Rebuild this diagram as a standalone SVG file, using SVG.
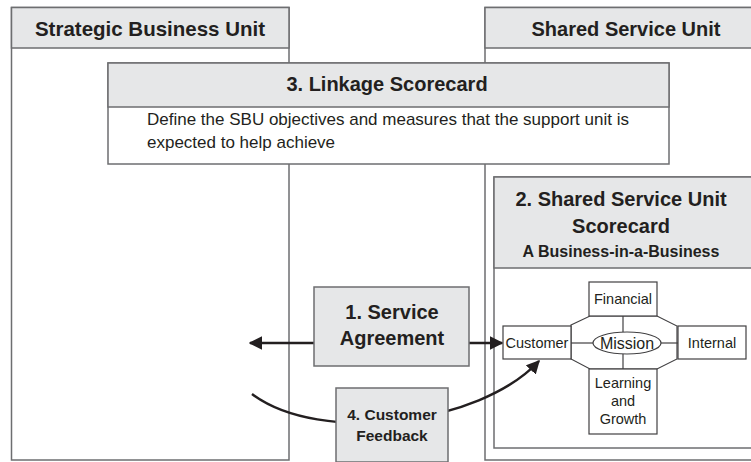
<svg xmlns="http://www.w3.org/2000/svg" width="751" height="462" viewBox="0 0 751 462">
<style>
.box{fill:#fff;stroke:#6d6e70;stroke-width:1.5}
.hdr{fill:#e6e7e8;stroke:#6d6e70;stroke-width:1.5}
.thin{fill:#fff;stroke:#414042;stroke-width:1.2}
.t{font-family:"Liberation Sans",Arial,sans-serif;fill:#231f20}
.b{font-weight:bold}
.c{text-anchor:middle}
.ln{fill:none;stroke:#231f20;stroke-width:2.5}
.sl{fill:none;stroke:#414042;stroke-width:1.2}
</style>
<defs>
<marker id="ah" viewBox="0 0 10 10" refX="9" refY="5" markerWidth="5.4" markerHeight="5.4" orient="auto" markerUnits="strokeWidth">
<path d="M0,0 L10,5 L0,10 Z" fill="#231f20"/>
</marker>
</defs>
<rect width="751" height="462" fill="#fff"/>
<g id="sbu">
<rect class="box" x="11.5" y="7.5" width="277.5" height="452.5"/>
<rect class="hdr" x="11.5" y="7.5" width="277.5" height="40.5"/>
<text class="t b c" x="150" y="36" font-size="20.5">Strategic Business Unit</text>
</g>
<g id="ssu">
<rect class="box" x="485" y="7.5" width="280" height="452.5"/>
<rect class="hdr" x="485" y="7.5" width="280" height="40.5"/>
<text class="t b c" x="626" y="36" font-size="20">Shared Service Unit</text>
</g>
<g id="linkage">
<rect class="box" x="108" y="63" width="561" height="101"/>
<rect class="hdr" x="108" y="63" width="561" height="44"/>
<text class="t b c" x="387" y="91" font-size="20">3. Linkage Scorecard</text>
<text class="t" x="147" y="125" font-size="17">Define the SBU objectives and measures that the support unit is</text>
<text class="t" x="147" y="148" font-size="17">expected to help achieve</text>
</g>
<g id="ssu-scorecard">
<rect class="box" x="494" y="177" width="270" height="271"/>
<rect class="hdr" x="494" y="177" width="270" height="91"/>
<text class="t b c" x="621" y="206" font-size="20">2. Shared Service Unit</text>
<text class="t b c" x="621" y="233" font-size="20">Scorecard</text>
<text class="t b c" x="621" y="257" font-size="16">A Business-in-a-Business</text>
<polygon class="thin" points="571,325 590,316 657,316 677,326 677,359 657,369 590,369 571,359"/>
<line class="sl" x1="571" y1="343" x2="593" y2="343"/>
<line class="sl" x1="661" y1="343" x2="678" y2="343"/>
<line class="sl" x1="623" y1="316" x2="623" y2="332"/>
<line class="sl" x1="623" y1="354" x2="623" y2="369"/>
<ellipse class="thin" cx="627" cy="343" rx="34" ry="11"/>
<text class="t c" x="627" y="349" font-size="16">Mission</text>
</g>
<g id="financial">
<rect class="thin" x="589" y="282" width="68" height="34"/>
<text class="t c" x="623" y="304" font-size="14.5">Financial</text>
</g>
<g id="customer">
<rect class="thin" x="503" y="326" width="68" height="33"/>
<text class="t c" x="537" y="348" font-size="14.5">Customer</text>
</g>
<g id="internal">
<rect class="thin" x="678" y="326" width="68" height="33"/>
<text class="t c" x="712" y="348" font-size="14.5">Internal</text>
</g>
<g id="learning">
<rect class="thin" x="589" y="369" width="68" height="65"/>
<text class="t c" x="623" y="388" font-size="14.5">Learning</text>
<text class="t c" x="623" y="406" font-size="14.5">and</text>
<text class="t c" x="623" y="424" font-size="14.5">Growth</text>
</g>
<g id="connectors">
<line class="ln" x1="314" y1="343" x2="250" y2="343" marker-end="url(#ah)"/>
<line class="ln" x1="469" y1="343" x2="502" y2="343" marker-end="url(#ah)"/>
<path class="ln" d="M252,394 C320,445 480,425 539,361" marker-end="url(#ah)"/>
</g>
<g id="service-agreement">
<rect class="hdr" x="314" y="287" width="155" height="79"/>
<text class="t b c" x="392" y="319" font-size="20">1. Service</text>
<text class="t b c" x="392" y="345" font-size="20">Agreement</text>
</g>
<g id="customer-feedback">
<rect class="hdr" x="336" y="388" width="112" height="74"/>
<text class="t b c" x="392" y="420" font-size="15.5">4. Customer</text>
<text class="t b c" x="392" y="441" font-size="15.5">Feedback</text>
</g>
</svg>
